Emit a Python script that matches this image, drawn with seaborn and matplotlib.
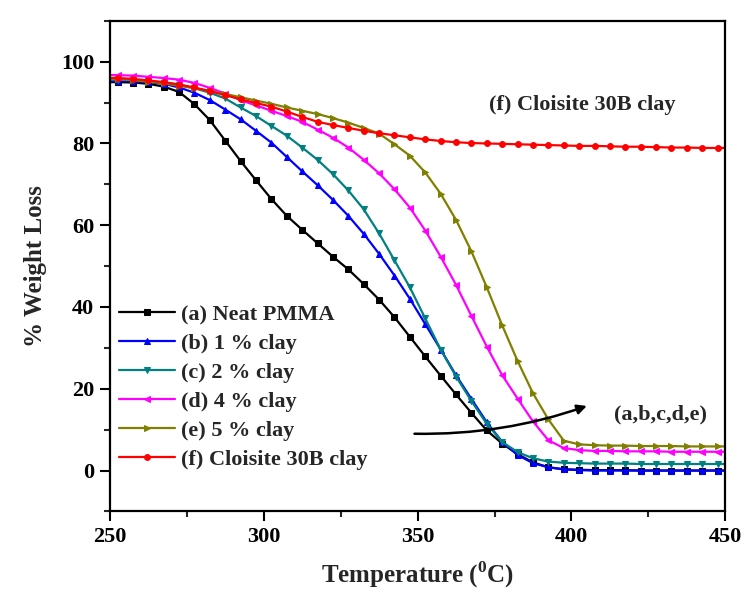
import matplotlib
matplotlib.use("Agg")
import matplotlib.pyplot as plt
import seaborn as sns
import pandas as pd
from matplotlib.ticker import MultipleLocator

temperature = [247.5, 252.5, 257.5, 262.5, 267.5, 272.5, 277.5, 282.5, 287.5, 292.5,
               297.5, 302.5, 307.5, 312.5, 317.5, 322.5, 327.5, 332.5, 337.5, 342.5,
               347.5, 352.5, 357.5, 362.5, 367.5, 372.5, 377.5, 382.5, 387.5, 392.5,
               397.5, 402.5, 407.5, 412.5, 417.5, 422.5, 427.5, 432.5, 437.5, 442.5,
               447.5, 452.5]

neat_pmma = [95.0, 95.0, 94.9, 94.6, 93.9, 92.6, 89.6, 85.7, 80.7, 75.7,
             71.0, 66.4, 62.3, 58.9, 55.6, 52.3, 49.2, 45.6, 41.8, 37.5,
             32.7, 27.9, 23.2, 18.6, 14.1, 9.8, 6.6, 4.0, 2.0, 0.8,
             0.3, 0.2, 0.1, 0.1, 0.1, 0.0, 0.0, 0.0, 0.0, 0.0,
             0.0, 0.0]
clay_1 = [95.3, 95.3, 95.2, 95.0, 94.6, 93.7, 92.4, 90.6, 88.3, 85.9,
          83.1, 80.2, 76.7, 73.2, 69.8, 66.2, 62.3, 57.9, 53.0, 47.7,
          42.0, 35.8, 29.6, 23.3, 17.5, 11.8, 7.0, 3.8, 1.8, 0.8,
          0.3, 0.1, 0.0, 0.0, 0.0, 0.0, 0.0, 0.0, 0.0, 0.0,
          0.0, 0.0]
clay_2 = [95.6, 95.6, 95.5, 95.3, 94.9, 94.4, 93.5, 92.4, 91.0, 88.8,
          86.7, 84.3, 81.9, 79.0, 76.0, 72.5, 68.5, 63.9, 58.0, 51.4,
          44.8, 37.2, 29.6, 23.0, 17.0, 11.4, 7.0, 4.5, 3.0, 2.2,
          1.9, 1.8, 1.7, 1.7, 1.7, 1.6, 1.6, 1.6, 1.6, 1.6,
          1.6, 1.6]
clay_4 = [96.8, 96.7, 96.6, 96.3, 96.0, 95.6, 94.8, 93.6, 92.2, 90.6,
          89.3, 88.0, 86.7, 85.3, 83.4, 81.4, 79.0, 76.0, 72.7, 68.8,
          64.3, 58.7, 52.3, 45.4, 37.8, 30.3, 23.3, 17.6, 12.0, 7.4,
          5.5, 5.0, 4.8, 4.8, 4.7, 4.7, 4.7, 4.6, 4.6, 4.6,
          4.6, 4.6]
clay_5 = [95.8, 95.7, 95.5, 95.1, 94.7, 94.1, 93.5, 92.8, 92.1, 91.3,
          90.5, 89.7, 88.8, 88.0, 87.2, 86.2, 85.1, 83.8, 82.4, 79.8,
          77.0, 72.9, 67.7, 61.3, 53.6, 44.8, 35.5, 26.8, 18.9, 12.5,
          7.3, 6.4, 6.2, 6.1, 6.1, 6.0, 6.0, 6.0, 5.9, 5.9,
          5.9, 5.9]
cloisite = [96.1, 96.0, 95.8, 95.4, 95.0, 94.4, 93.7, 92.8, 91.8, 90.8,
            89.9, 89.0, 87.8, 86.5, 85.3, 84.5, 83.8, 83.1, 82.5, 82.0,
            81.5, 81.0, 80.6, 80.3, 80.1, 80.0, 79.9, 79.8, 79.7, 79.6,
            79.5, 79.4, 79.4, 79.3, 79.2, 79.2, 79.1, 79.0, 79.0, 78.9,
            78.9, 78.9]

labels = ["(a) Neat PMMA", "(b) 1 % clay", "(c) 2 % clay",
          "(d) 4 % clay", "(e) 5 % clay", "(f) Cloisite 30B clay"]
series = [neat_pmma, clay_1, clay_2, clay_4, clay_5, cloisite]
colors = ["#000000", "#0000FF", "#008080", "#FF00FF", "#808000", "#FF0000"]
markers = ["s", "^", "v", "<", ">", "o"]

sns.set_theme(style="white")
plt.rcParams["font.family"] = ["Liberation Serif", "DejaVu Serif"]
plt.rcParams["font.weight"] = "bold"
plt.rcParams["mathtext.fontset"] = "custom"
plt.rcParams["mathtext.rm"] = "Liberation Serif:bold"
plt.rcParams["mathtext.bf"] = "Liberation Serif:bold"

fig = plt.figure(figsize=(7.47, 5.94), dpi=100)
ax = fig.add_axes([0.147, 0.139, 0.824, 0.826])

for lab, vals, col, mk in zip(labels, series, colors, markers):
    df = pd.DataFrame({"T": temperature, "W": vals})
    sns.lineplot(data=df, x="T", y="W", ax=ax, color=col, marker=mk,
                 markersize=4.2, markeredgecolor=col, markerfacecolor=col,
                 linewidth=1.6, label=lab, estimator=None, sort=False)

ax.set_xlim(250, 450)
ax.set_ylim(-10, 110)
ax.xaxis.set_major_locator(MultipleLocator(50))
ax.xaxis.set_minor_locator(MultipleLocator(25))
ax.yaxis.set_major_locator(MultipleLocator(20))
ax.yaxis.set_minor_locator(MultipleLocator(10))
ax.set_yticks([0, 20, 40, 60, 80, 100])
ax.tick_params(axis="both", which="major", direction="out", length=7.2, width=1.5,
               pad=4, labelsize=16, bottom=True, left=True, top=False, right=False,
               colors="black")
ax.tick_params(axis="both", which="minor", direction="out", length=4, width=1.5,
               bottom=True, left=True, top=False, right=False)
for lbl in ax.get_xticklabels() + ax.get_yticklabels():
    lbl.set_fontweight("bold")
for sp in ax.spines.values():
    sp.set_linewidth(1.6)
    sp.set_color("black")

ax.set_xlabel("Temperature ($^{\\mathbf{0}}$C)", fontsize=18, fontweight="bold", labelpad=9)
ax.set_ylabel("% Weight Loss", fontsize=18, fontweight="bold", labelpad=10)

leg = ax.legend(loc="lower left", bbox_to_anchor=(0.008, 0.075), frameon=False,
                fontsize=16, handlelength=2.5, handletextpad=0.3, labelspacing=0.38,
                borderaxespad=0.0, borderpad=0.2)
for t in leg.get_texts():
    t.set_fontweight("bold")

ax.text(403.5, 89.3, "(f) Cloisite 30B clay", fontsize=16, fontweight="bold",
        ha="center", va="center")
ax.text(429.0, 13.8, "(a,b,c,d,e)", fontsize=16, fontweight="bold",
        ha="center", va="center")
ax.annotate("", xy=(405, 15.8), xytext=(349, 9.0),
            arrowprops=dict(arrowstyle="-|>", color="black", lw=1.8,
                            mutation_scale=14,
                            connectionstyle="arc3,rad=0.09", shrinkA=0, shrinkB=0))

fig.savefig("out.png", dpi=100, facecolor="white")
